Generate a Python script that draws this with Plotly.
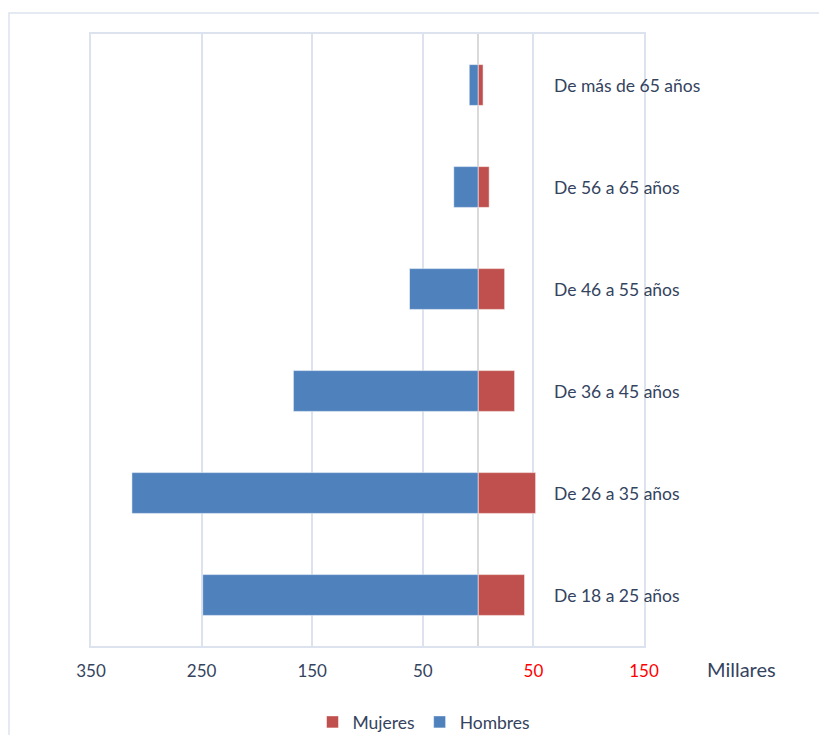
import plotly.graph_objects as go

categories = ["De 18 a 25 años", "De 26 a 35 años", "De 36 a 45 años",
              "De 46 a 55 años", "De 56 a 65 años", "De más de 65 años"]
hombres = [249, 313, 167, 62, 22, 8]
mujeres = [42, 52, 33, 24, 10, 4.5]
tick_vals = [-350, -250, -150, -50, 50, 150]
tick_text = ["350", "250", "150", "50", "50", "150"]
tick_colors = ["#34435E", "#34435E", "#34435E", "#34435E", "red", "red"]

TXT = "#34435E"
FONT = "Lato"

fig = go.Figure()
fig.add_trace(go.Bar(
    y=categories, x=mujeres, orientation="h", name="Mujeres",
    marker=dict(color="#C0504D", line=dict(color="rgba(255,255,255,0.5)", width=1)),
    width=0.4))
fig.add_trace(go.Bar(
    y=categories, x=[-v for v in hombres], orientation="h", name="Hombres",
    marker=dict(color="#4F81BD", line=dict(color="rgba(255,255,255,0.5)", width=1)),
    width=0.4))

ticktext = [f'<span style="color:{c}">{t}</span>' for t, c in zip(tick_text, tick_colors)]

OFF = 7  # page offset of the figure
W, H = 827, 735
L, T = 90 - OFF, 33 - OFF
pw, ph = 553, 612
R = W - L - pw
B = H - T - ph

def px2x(px):
    return (px - OFF - L) / pw

def px2y(py):
    return (T + ph - (py - OFF)) / ph

annotations = []
for c in categories:
    annotations.append(dict(x=px2x(551), xref="paper", y=c, yref="y", text=c,
                            showarrow=False, xanchor="left", yanchor="middle",
                            font=dict(size=17.5, color=TXT, family=FONT)))
annotations.append(dict(x=px2x(704), xref="paper", y=px2y(668), yref="paper",
                        text="Millares", showarrow=False, xanchor="left", yanchor="middle",
                        font=dict(size=20, color=TXT, family=FONT)))

fig.update_layout(
    width=W, height=H,
    margin=dict(l=L, r=R, t=T, b=B, autoexpand=False),
    paper_bgcolor="white", plot_bgcolor="white",
    barmode="relative",
    bargap=0.6,
    font=dict(family=FONT, size=16, color=TXT),
    xaxis=dict(range=[-350, 150], tickvals=tick_vals, ticktext=ticktext,
               showgrid=True, gridcolor="#DCE3EE", gridwidth=1.5,
               zeroline=True, zerolinecolor="#D9D9D9", zerolinewidth=2,
               showline=True, linecolor="#DCE3EE", linewidth=1.5, mirror=True,
               ticks="", ticklabelstandoff=9, automargin=False,
               tickfont=dict(size=17, color=TXT, family=FONT), fixedrange=True),
    yaxis=dict(categoryorder="array", categoryarray=categories,
               showticklabels=False, showgrid=False, zeroline=False,
               showline=True, linecolor="#DCE3EE", linewidth=1.5, mirror=True,
               range=[-0.5, 5.5], fixedrange=True, automargin=False),
    legend=dict(orientation="h", xref="container", yref="container",
                x=(423 - OFF) / W, xanchor="center", y=1 - (721 - OFF) / H,
                yanchor="middle", traceorder="normal", itemwidth=30,
                font=dict(size=17.5, color=TXT, family=FONT)),
    annotations=annotations,
    shapes=[dict(type="rect", xref="paper", yref="paper",
                 x0=px2x(8), x1=px2x(880), y0=px2y(790), y1=px2y(12),
                 line=dict(color="#DCE3EE", width=1.5), layer="below")],
    showlegend=True,
)

fig.write_html("out.html")
